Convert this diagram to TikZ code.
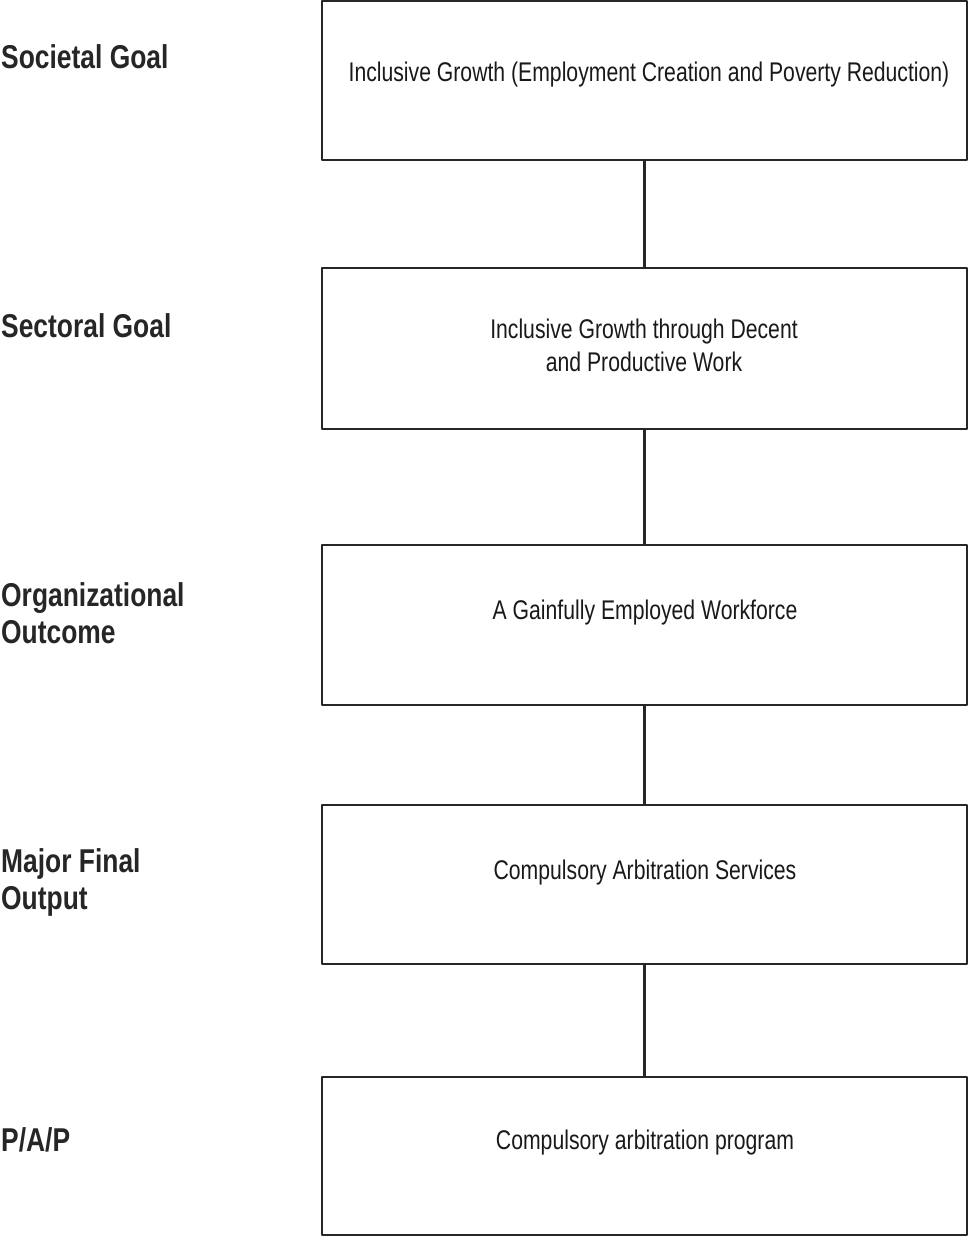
\documentclass[tikz,border=0pt]{standalone}
\usepackage{fontspec}
\setmainfont{Liberation Sans}
\newfontfamily\narrowfont{Liberation Sans}[FakeStretch=0.785]
\newfontfamily\narrowbold{Liberation Sans Bold}[FakeStretch=0.8]
\begin{document}
\begin{tikzpicture}[x=1pt,y=-1pt,line join=round,
		box/.style={draw=black!85,line width=2.6pt,minimum width=645pt,inner sep=0pt},
		boxtext/.style={font=\fontsize{27}{33}\narrowfont,text=black!90,align=center,inner sep=0pt},
		level/.style={font=\fontsize{33}{37}\narrowbold,text=black!85,align=left,anchor=west,inner sep=0pt},
		link/.style={draw=black!85,line width=2.6pt}]
	\useasboundingbox (0,0) rectangle (968,1237);
	% boxes
	\node[box,minimum height=159pt] (goal) at (644.5,80.5) {};
	\node[box,minimum height=161pt] (sector) at (644.5,348.5) {};
	\node[box,minimum height=160pt] (outcome) at (644.5,625) {};
	\node[box,minimum height=159pt] (mfo) at (644.5,884.5) {};
	\node[box,minimum height=158pt] (pap) at (644.5,1156) {};
	\draw[link] (goal)--(sector) (sector)--(outcome) (outcome)--(mfo) (mfo)--(pap);
	% texts in the boxes
	\node[boxtext] (goaltxt) at (649,75) {Inclusive Growth (Employment Creation and Poverty Reduction)};
	\node[boxtext] (sectortxt) at (644,345) {Inclusive Growth through Decent\\and Productive Work};
	\node[boxtext] (outcometxt) at (645,613) {A Gainfully Employed Workforce};
	\node[boxtext] (mfotxt) at (645,873) {Compulsory Arbitration Services};
	\node[boxtext] (paptxt) at (645,1143) {Compulsory arbitration program};
	% levels
	\node[level] (goallbl) at (1,57) {Societal Goal};
	\node[level] (sectorlbl) at (1,326) {Sectoral Goal};
	\node[level] (outcomelbl) at (1,613) {Organizational\\Outcome};
	\node[level] (mfolbl) at (1,882) {Major Final\\Output};
	\node[level] (paplbl) at (1,1140) {P/A/P};
\end{tikzpicture}
\end{document}
